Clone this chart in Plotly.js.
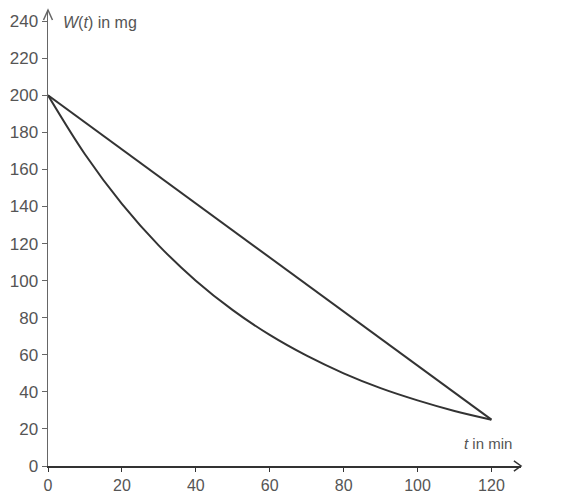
<!DOCTYPE html>
<html>
<head>
<meta charset="utf-8">
<script src="https://cdn.plot.ly/plotly-3.0.1.min.js"></script>
<style>html,body{margin:0;padding:0;background:#fff;}#chart{width:566px;height:494px;}</style>
</head>
<body>
<div id="chart"></div>
<script>
// Data
const tLine = [0, 120];
const wLine = [200, 25];
const tCurve = [0, 10, 20, 30, 40, 50, 60, 70, 80, 90, 100, 110, 120];
const wCurve = [200, 168.2, 141.4, 118.9, 100, 84.1, 70.7, 59.5, 50, 42, 35.4, 29.7, 25];
const xTicks = [0, 20, 40, 60, 80, 100, 120];
const yTicks = [0, 20, 40, 60, 80, 100, 120, 140, 160, 180, 200, 220, 240];

const yTickFont = {family: 'Liberation Sans, Arial, sans-serif', size: 17, color: '#555'};
const xTickFont = {family: 'Liberation Sans, Arial, sans-serif', size: 16, color: '#555'};
const lineStyle = {color: '#333', width: 2};

const traces = [
  {x: tLine, y: wLine, mode: 'lines', line: lineStyle, hoverinfo: 'skip'},
  {x: tCurve, y: wCurve, mode: 'lines', line: Object.assign({shape: 'spline', smoothing: 1}, lineStyle), hoverinfo: 'skip'}
];

const layout = {
  width: 566, height: 494,
  margin: {l: 48, r: 45, t: 10, b: 28},
  showlegend: false,
  paper_bgcolor: '#fff', plot_bgcolor: '#fff',
  xaxis: {
    range: [0, 128], tickvals: xTicks, ticktext: xTicks.map(String),
    showgrid: false, zeroline: false, showline: true, linecolor: '#333', linewidth: 1.5,
    ticks: 'outside', ticklen: 4, tickcolor: '#333', tickfont: xTickFont
  },
  yaxis: {
    range: [0, 246], tickvals: yTicks, ticktext: yTicks.map(String),
    showgrid: false, zeroline: false, showline: true, linecolor: '#666', linewidth: 1.5,
    ticks: 'outside', ticklen: 5, tickcolor: '#666', tickfont: yTickFont
  },
  shapes: [
    {type: 'path', xref: 'paper', yref: 'paper', path: 'M -0.0095,0.978 L 0,1 L 0.0095,0.978', line: {color: '#666', width: 1.5}},
    {type: 'path', xref: 'paper', yref: 'paper', path: 'M 0.985,0.011 L 1,0 L 0.985,-0.011', line: {color: '#333', width: 1.5}}
  ],
  annotations: [
    {xref: 'paper', yref: 'paper', x: 0.028, y: 0.972, xanchor: 'left', yanchor: 'middle', showarrow: false,
     text: '<i>W</i>(<i>t</i>) in mg', font: {family: 'Liberation Sans, Arial, sans-serif', size: 16, color: '#555'}},
    {xref: 'paper', yref: 'paper', x: 0.985, y: 0.05, xanchor: 'right', yanchor: 'middle', showarrow: false,
     text: '<i>t</i> in min', font: {family: 'Liberation Sans, Arial, sans-serif', size: 15, color: '#555'}}
  ]
};

Plotly.newPlot('chart', traces, layout, {staticPlot: true, displayModeBar: false});
</script>
</body>
</html>
